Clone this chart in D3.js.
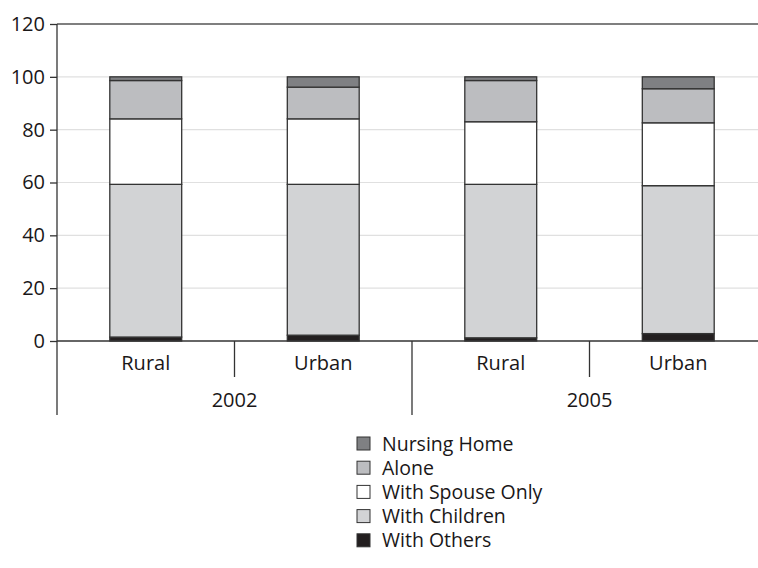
<!DOCTYPE html>
<html><head><meta charset="utf-8">
<script src="https://cdn.jsdelivr.net/npm/d3@7"></script>
<style>body{margin:0;background:#fff;} text{font-family:"Open Sans",sans-serif;}</style>
</head><body><svg id="c" width="758" height="568"></svg>
<script>
const categories = ["Rural","Urban","Rural","Urban"];
const groups = ["2002","2005"];
const seriesNames = ["With Others","With Children","With Spouse Only","Alone","Nursing Home"];
const withOthers   = [1.5, 2.2, 1.2, 2.8];
const withChildren = [57.8, 57.1, 58.1, 56.0];
const withSpouse   = [24.8, 24.8, 23.7, 23.8];
const alone        = [14.5, 12.0, 15.6, 12.9];
const nursingHome  = [1.4, 3.9, 1.4, 4.5];
const yTicks = [0,20,40,60,80,100,120];
const colors = ["#231f20","#d2d3d5","#ffffff","#bcbdc0","#7f8083"];

const svg = d3.select("#c");
const mLeft = 57, mTop = 24, mBottom = 341, bandW = 177.5;
const ids = categories.map((d,i)=>i);
const x = d3.scaleBand().domain(ids).range([mLeft, mLeft+bandW*4]).paddingInner(0.595).paddingOuter(0.2975);
const y = d3.scaleLinear().domain([0,120]).range([mBottom, mTop]);
const txt = "#1a1718";

// gridlines
svg.append("g").selectAll("line").data(yTicks.filter(t=>t>0 && t<120)).join("line")
  .attr("x1", mLeft).attr("x2", 758).attr("y1", d=>y(d)).attr("y2", d=>y(d))
  .attr("stroke", "#e0e0e0").attr("stroke-width", 1.2);
// top line
svg.append("line").attr("x1", mLeft).attr("x2", 758).attr("y1", y(120)).attr("y2", y(120))
  .attr("stroke", "#555").attr("stroke-width", 1.3);

// stacked data
const rows = ids.map(i=>({i, v:[withOthers[i], withChildren[i], withSpouse[i], alone[i], nursingHome[i]]}));
const stack = d3.stack().keys([0,1,2,3,4]).value((d,k)=>d.v[k]);
const layers = stack(rows);
svg.append("g").selectAll("g").data(layers).join("g")
  .attr("fill", (d,k)=>colors[k])
  .selectAll("rect").data(d=>d).join("rect")
  .attr("x", d=>x(d.data.i)).attr("width", x.bandwidth())
  .attr("y", d=>y(d[1])).attr("height", d=>y(d[0])-y(d[1]))
  .attr("stroke", "#333").attr("stroke-width", 1.3);

// y axis
const ya = d3.axisLeft(y).tickValues(yTicks).tickSize(7).tickSizeOuter(0);
const yg = svg.append("g").attr("transform", `translate(${mLeft},0)`).call(ya);
yg.select(".domain").remove();
yg.selectAll(".tick line").attr("stroke", "#333").attr("stroke-width", 1.3);
yg.selectAll(".tick text").attr("x", -12).attr("font-size", 20).attr("fill", txt)
  .style("font-family", '"Open Sans",sans-serif');
svg.append("line").attr("x1", mLeft).attr("x2", mLeft).attr("y1", mTop).attr("y2", 415)
  .attr("stroke", "#333").attr("stroke-width", 1.3);

// x axis baseline
svg.append("line").attr("x1", mLeft).attr("x2", 758).attr("y1", mBottom).attr("y2", mBottom)
  .attr("stroke", "#333").attr("stroke-width", 1.3);
// category separators
const xs = d3.scaleLinear().domain([0,4]).range([mLeft, mLeft+bandW*4]);
[1,3].forEach(k=>svg.append("line").attr("x1", xs(k)).attr("x2", xs(k)).attr("y1", mBottom).attr("y2", 377)
  .attr("stroke", "#333").attr("stroke-width", 1.3));
[2].forEach(k=>svg.append("line").attr("x1", xs(k)).attr("x2", xs(k)).attr("y1", mBottom).attr("y2", 415)
  .attr("stroke", "#333").attr("stroke-width", 1.3));
// category labels
svg.append("g").selectAll("text").data(ids).join("text")
  .attr("x", i=>x(i)+x.bandwidth()/2).attr("y", 370).attr("text-anchor","middle")
  .attr("font-size", 20).attr("fill",txt).text(i=>categories[i]);
svg.append("g").selectAll("text").data(groups).join("text")
  .attr("x", (d,g)=>xs(g*2+1)).attr("y", 407).attr("text-anchor","middle")
  .attr("font-size", 20).attr("fill",txt).text(d=>d);

// legend
const legendOrder = [4,3,2,1,0];
const lg = svg.append("g").selectAll("g").data(legendOrder).join("g")
  .attr("transform", (k,j)=>`translate(357,${437+j*24.2})`);
lg.append("rect").attr("width", 13).attr("height", 13).attr("fill", k=>colors[k])
  .attr("stroke", "#333").attr("stroke-width", 1);
lg.append("text").attr("x", 25).attr("y", 13.5).attr("font-size", 19.5).attr("fill",txt)
  .text(k=>seriesNames[k]);
</script></body></html>
